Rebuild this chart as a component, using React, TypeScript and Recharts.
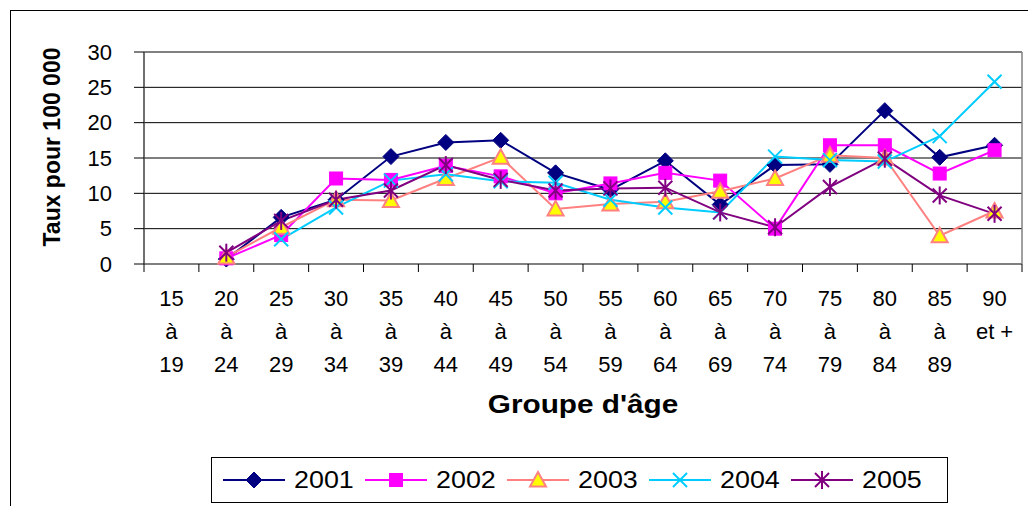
import React from 'react';
import { LineChart, Line, XAxis, YAxis, CartesianGrid, ReferenceLine } from 'recharts';

// ---- data ----
const AGE_LABELS: string[][] = [
  ['15', 'à', '19'], ['20', 'à', '24'], ['25', 'à', '29'], ['30', 'à', '34'],
  ['35', 'à', '39'], ['40', 'à', '44'], ['45', 'à', '49'], ['50', 'à', '54'],
  ['55', 'à', '59'], ['60', 'à', '64'], ['65', 'à', '69'], ['70', 'à', '74'],
  ['75', 'à', '79'], ['80', 'à', '84'], ['85', 'à', '89'], ['90', 'et +'],
];
const CATEGORIES = AGE_LABELS.map((l) => l.join(' '));

const S2001 = [null, 0.7, 6.6, 9.1, 15.2, 17.2, 17.5, 12.9, 10.5, 14.6, 8.4, 14.0, 14.1, 21.7, 15.1, 16.8];
const S2002 = [null, 0.8, 4.1, 12.1, 11.9, 13.9, 12.4, 10.0, 11.4, 12.9, 11.8, 5.0, 16.8, 16.8, 12.8, 16.1];
const S2003 = [null, 1.0, 5.2, 9.1, 9.0, 12.1, 15.1, 7.8, 8.5, 8.8, 10.3, 12.1, 15.4, 15.0, 4.0, 7.5];
const S2004 = [null, null, 3.5, 8.0, 11.8, 12.7, 11.7, 11.5, 9.1, 8.0, 7.3, 15.2, 14.7, 14.5, 18.1, 25.8];
const S2005 = [null, 1.6, 6.1, 9.1, 10.4, 14.0, 11.9, 10.4, 10.7, 10.8, 7.3, 5.2, 10.9, 14.9, 9.7, 7.1];

const Y_TICKS = [0, 5, 10, 15, 20, 25, 30];

const SERIES = [
  { key: '2001', values: S2001, color: '#000080', shape: 'diamond' },
  { key: '2002', values: S2002, color: '#FF00FF', shape: 'square' },
  { key: '2003', values: S2003, color: '#FF8080', shape: 'triangle' },
  { key: '2004', values: S2004, color: '#00CCFF', shape: 'x' },
  { key: '2005', values: S2005, color: '#800080', shape: 'star' },
];

const data = CATEGORIES.map((cat, i) => {
  const row: any = { cat };
  SERIES.forEach((s) => { row[s.key] = s.values[i]; });
  return row;
});

// ---- layout ----
const W = 1028;
const H = 506;
const PLOT_LEFT = 144;
const PLOT_RIGHT = 1022;
const PLOT_BOTTOM = 264;
const PLOT_TOP = 52;
const XAXIS_H = 130;
const HALF_BAND = (PLOT_RIGHT - PLOT_LEFT) / CATEGORIES.length / 2;
const FONT = '"Liberation Sans", Arial, sans-serif';

function Marker({ cx, cy, shape, color }: any) {
  if (cx == null || cy == null || isNaN(cx) || isNaN(cy)) return <g />;
  switch (shape) {
    case 'diamond':
      return <polygon points={`${cx},${cy - 8} ${cx + 8},${cy} ${cx},${cy + 8} ${cx - 8},${cy}`} fill={color} stroke={color} strokeWidth={1} />;
    case 'square':
      return <rect x={cx - 6.5} y={cy - 6.5} width={13} height={13} fill={color} stroke={color} strokeWidth={1} />;
    case 'triangle':
      return <polygon points={`${cx},${cy - 8} ${cx + 8},${cy + 6.5} ${cx - 8},${cy + 6.5}`} fill="#FFFF00" stroke={color} strokeWidth={2} />;
    case 'x':
      return (
        <g stroke={color} strokeWidth={2}>
          <line x1={cx - 7} y1={cy - 7} x2={cx + 7} y2={cy + 7} />
          <line x1={cx - 7} y1={cy + 7} x2={cx + 7} y2={cy - 7} />
        </g>
      );
    case 'star':
      return (
        <g stroke={color} strokeWidth={2}>
          <line x1={cx - 7} y1={cy - 7} x2={cx + 7} y2={cy + 7} />
          <line x1={cx - 7} y1={cy + 7} x2={cx + 7} y2={cy - 7} />
          <line x1={cx} y1={cy - 9} x2={cx} y2={cy + 9} />
        </g>
      );
    default:
      return <g />;
  }
}

function XTick(props: any) {
  const { x, y, index } = props;
  const lines = AGE_LABELS[index] || [];
  const last = index === CATEGORIES.length - 1;
  return (
    <g>
      <line x1={x - HALF_BAND} y1={y} x2={x - HALF_BAND} y2={y + 8} stroke="#000" strokeWidth={1} />
      {last && <line x1={x + HALF_BAND} y1={y} x2={x + HALF_BAND} y2={y + 8} stroke="#000" strokeWidth={1} />}
      {lines.map((t, k) => (
        <text key={k} x={x} y={y + 42 + k * 33} textAnchor="middle" fontSize={22} fontFamily={FONT} fill="#000">
          {t}
        </text>
      ))}
    </g>
  );
}

function XTitle() {
  return (
    <text transform={`translate(${(PLOT_LEFT + PLOT_RIGHT) / 2},413) scale(1.19,1)`} textAnchor="middle" fontSize={25} fontWeight="bold" fontFamily={FONT} fill="#000">
      Groupe d'âge
    </text>
  );
}

function YTitle() {
  return (
    <text transform="translate(60,147) rotate(-90)" textAnchor="middle" fontSize={23} fontWeight="bold" fontFamily={FONT} fill="#000">
      Taux pour 100 000
    </text>
  );
}

function LegendIcon({ shape, color }: any) {
  return (
    <svg width={62} height={22} style={{ display: 'block' }}>
      <line x1={0} y1={11} x2={62} y2={11} stroke={color} strokeWidth={2} />
      <Marker cx={31} cy={11} shape={shape} color={color} />
    </svg>
  );
}

export default function App() {
  return (
    <div style={{ position: 'relative', width: W, height: H, overflow: 'hidden', background: '#fff', fontFamily: FONT }}>
      <style>{`html,body{margin:0;padding:0;overflow:hidden;background:#fff}`}</style>
      <div style={{ position: 'absolute', left: 10, top: 10, width: 1018, height: 496, borderLeft: '1px solid #000', borderTop: '1px solid #000' }} />
      <div style={{ position: 'absolute', left: 0, top: 0 }}>
        <LineChart width={W} height={H} data={data} margin={{ top: PLOT_TOP, right: 0, bottom: H - PLOT_BOTTOM - XAXIS_H, left: 0 }}>
          <CartesianGrid vertical={false} stroke="#000" strokeWidth={1} />
          <XAxis
            dataKey="cat"
            type="category"
            interval={0}
            height={XAXIS_H}
            padding={{ left: HALF_BAND, right: HALF_BAND }}
            tickLine={false}
            tickSize={0}
            tickMargin={0}
            axisLine={{ stroke: '#808080', strokeWidth: 1.5 }}
            tick={<XTick />}
            label={<XTitle />}
          />
          <YAxis
            domain={[0, 30]}
            ticks={Y_TICKS}
            interval={0}
            width={PLOT_LEFT}
            tickSize={10}
            tickMargin={22}
            axisLine={{ stroke: '#404040', strokeWidth: 1.5 }}
            tickLine={{ stroke: '#000', strokeWidth: 1 }}
            tick={{ fill: '#000', fontSize: 22, fontFamily: FONT }}
            label={<YTitle />}
          />
          <YAxis
            yAxisId="right"
            orientation="right"
            domain={[0, 30]}
            width={W - PLOT_RIGHT}
            tick={false}
            tickLine={false}
            axisLine={{ stroke: '#808080', strokeWidth: 1.5 }}
          />
          <ReferenceLine y={30} stroke="#808080" strokeWidth={1.5} ifOverflow="visible" />
          {SERIES.map((s) => (
            <Line
              key={s.key}
              dataKey={s.key}
              name={s.key}
              stroke={s.color}
              strokeWidth={2}
              isAnimationActive={false}
              activeDot={false}
              dot={(p: any) => <Marker key={`${s.key}-${p.index}`} cx={p.cx} cy={p.cy} shape={s.shape} color={s.color} />}
            />
          ))}
        </LineChart>
      </div>
      <div
        style={{
          position: 'absolute', left: 211, top: 457, width: 737, height: 46,
          boxSizing: 'border-box', border: '1px solid #000', background: '#fff',
        }}
      >
        {SERIES.map((s, i) => (
          <div key={s.key} style={{ position: 'absolute', left: 11 + i * 142, top: 0, height: 44, display: 'flex', alignItems: 'center' }}>
            <LegendIcon shape={s.shape} color={s.color} />
            <span style={{ marginLeft: 9, fontSize: 24, color: '#000', display: 'inline-block', transform: 'scaleX(1.12)', transformOrigin: 'left center' }}>{s.key}</span>
          </div>
        ))}
      </div>
    </div>
  );
}
